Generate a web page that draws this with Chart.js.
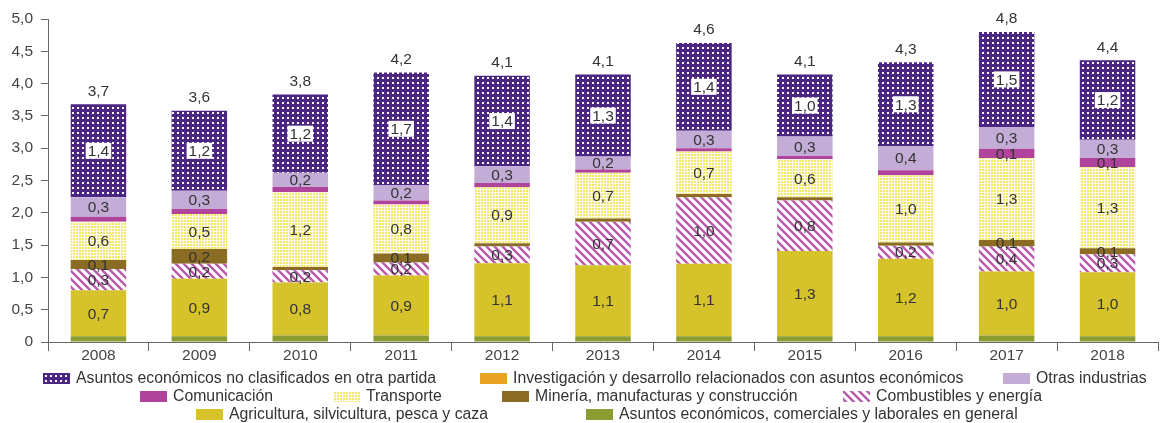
<!DOCTYPE html>
<html>
<head>
<meta charset="utf-8">
<script src="https://cdn.jsdelivr.net/npm/chart.js@4.4.0/dist/chart.umd.min.js"></script>
<style>
  body { margin: 0; background: #fff; }
  #wrap { position: relative; width: 1160px; height: 423px; }
  #legend { position: absolute; left: 0; top: 0; width: 1160px; height: 423px; pointer-events: none;
            font-family: 'Liberation Sans', Arial, sans-serif; font-size: 15.8px; color: #333; }
  .item { position: absolute; display: flex; align-items: center; white-space: nowrap; height: 20px; }
  .item canvas { margin-right: 6px; }
</style>
</head>
<body>
<div id="wrap">
  <canvas id="canvas" width="1160" height="423"></canvas>
  <div id="legend"></div>
</div>
<script>
// datos
var years = ['2008', '2009', '2010', '2011', '2012', '2013', '2014', '2015', '2016', '2017', '2018'];
var generales      = [0.09, 0.09, 0.10, 0.10, 0.09, 0.09, 0.09, 0.09, 0.09, 0.10, 0.09];
var agricultura    = [0.71, 0.89, 0.82, 0.93, 1.13, 1.10, 1.12, 1.32, 1.20, 0.99, 0.99];
var combustibles   = [0.33, 0.23, 0.19, 0.20, 0.26, 0.67, 1.03, 0.78, 0.20, 0.39, 0.28];
var mineria        = [0.14, 0.23, 0.05, 0.14, 0.05, 0.05, 0.05, 0.05, 0.05, 0.10, 0.09];
var transporte     = [0.59, 0.54, 1.16, 0.76, 0.87, 0.71, 0.66, 0.59, 1.04, 1.27, 1.26];
var comunicacion   = [0.08, 0.08, 0.08, 0.06, 0.06, 0.05, 0.05, 0.05, 0.08, 0.14, 0.14];
var otras          = [0.30, 0.28, 0.22, 0.24, 0.26, 0.20, 0.27, 0.30, 0.37, 0.34, 0.28];
var investigacion  = [0, 0, 0, 0, 0, 0, 0, 0, 0, 0, 0];
var noClasificados = [1.44, 1.24, 1.21, 1.74, 1.40, 1.27, 1.36, 0.96, 1.30, 1.47, 1.23];
var yTicks = [0, 0.5, 1, 1.5, 2, 2.5, 3, 3.5, 4, 4.5, 5];

var FONT = "'Liberation Sans', Arial, sans-serif";
var ctx = document.getElementById('canvas').getContext('2d');

function fmt(v) {
  return v === 0 ? '0' : v.toFixed(1).replace('.', ',');
}

// patrones de relleno
function makePattern(size, draw) {
  var c = document.createElement('canvas');
  c.width = size; c.height = size;
  var g = c.getContext('2d');
  draw(g, size);
  return ctx.createPattern(c, 'repeat');
}
var purpleGrid = makePattern(5, function (g) {
  g.fillStyle = '#4b2683'; g.fillRect(0, 0, 5, 5);
  g.fillStyle = '#ffffff'; g.fillRect(2, 2, 2, 2);
});
var yellowDots = makePattern(3, function (g) {
  g.fillStyle = '#fffdf0'; g.fillRect(0, 0, 3, 3);
  g.fillStyle = '#f1e56c'; g.fillRect(1, 1, 2, 2);
});
var pinkStripes = makePattern(8, function (g) {
  g.fillStyle = '#ffffff'; g.fillRect(0, 0, 8, 8);
  g.strokeStyle = '#b85aac'; g.lineWidth = 2.4;
  g.beginPath();
  g.moveTo(-2, -2); g.lineTo(10, 10);
  g.moveTo(-2, 6); g.lineTo(2, 10);
  g.moveTo(6, -2); g.lineTo(10, 2);
  g.stroke();
});

function ds(label, data, bg, showLabels) {
  return {
    label: label, data: data, backgroundColor: bg, borderWidth: 0,
    barPercentage: 0.55, categoryPercentage: 1, showLabels: showLabels
  };
}

var datasets = [
  ds('Asuntos económicos, comerciales y laborales en general', generales, '#8c9b32', false),
  ds('Agricultura, silvicultura, pesca y caza', agricultura, '#d6c22b', true),
  ds('Combustibles y energía', combustibles, pinkStripes, true),
  ds('Minería, manufacturas y construcción', mineria, '#8b6c24', true),
  ds('Transporte', transporte, yellowDots, true),
  ds('Comunicación', comunicacion, '#b0449c', true),
  ds('Otras industrias', otras, '#c3acd6', true),
  ds('Investigación y desarrollo relacionados con asuntos económicos', investigacion, '#e8a323', false),
  ds('Asuntos económicos no clasificados en otra partida', noClasificados, purpleGrid, true)
];

// etiquetas de segmento y totales
var labelsPlugin = {
  id: 'labels',
  afterDatasetsDraw: function (chart) {
    var c = chart.ctx;
    c.save();
    c.font = '15.5px ' + FONT;
    c.textAlign = 'center';
    c.textBaseline = 'middle';
    chart.data.datasets.forEach(function (d, di) {
      if (!d.showLabels) return;
      var meta = chart.getDatasetMeta(di);
      meta.data.forEach(function (bar, i) {
        var v = d.data[i];
        if (v < 0.09) return;
        var y = (bar.y + bar.base) / 2;
        var t = fmt(v);
        if (di === 8) {
          var w = c.measureText(t).width;
          c.fillStyle = '#ffffff';
          c.fillRect(bar.x - w / 2 - 2, y - 8, w + 4, 16);
        }
        c.fillStyle = '#333';
        c.fillText(t, bar.x, y + 1);
      });
    });
    var top = chart.getDatasetMeta(8);
    years.forEach(function (yr, i) {
      var sum = 0;
      chart.data.datasets.forEach(function (d) { sum += d.data[i]; });
      var bar = top.data[i];
      c.fillStyle = '#333';
      c.fillText(fmt(sum), bar.x, bar.y - 13);
    });
    c.restore();
  }
};

new Chart(ctx, {
  type: 'bar',
  data: { labels: years, datasets: datasets },
  options: {
    responsive: false,
    animation: false,
    layout: { padding: { top: 19, right: 2, left: 0, bottom: 0 } },
    plugins: { legend: { display: false }, tooltip: { enabled: false } },
    scales: {
      x: {
        stacked: true,
        grid: { offset: true, drawOnChartArea: false, tickLength: 9, color: '#666' },
        border: { color: '#666' },
        ticks: { color: '#444', font: { family: FONT, size: 15.5 }, padding: -5 },
        afterFit: function (s) { s.height = 423 - 342; }
      },
      y: {
        stacked: true, min: 0, max: 5,
        afterBuildTicks: function (s) { s.ticks = yTicks.map(function (v) { return { value: v }; }); },
        grid: { drawOnChartArea: false, tickLength: 7, color: '#666' },
        border: { color: '#666' },
        ticks: { color: '#444', font: { family: FONT, size: 15.5 }, padding: 8, callback: function (v) { return fmt(v); } },
        afterFit: function (s) { s.width = 48; }
      }
    }
  },
  plugins: [labelsPlugin]
});

// leyenda en tres filas como el original
var legendLayout = [
  { ds: 8, x: 43, y: 368 }, { ds: 7, x: 480, y: 368 }, { ds: 6, x: 1003, y: 368 },
  { ds: 5, x: 140, y: 386 }, { ds: 4, x: 333, y: 386 }, { ds: 3, x: 502, y: 386 }, { ds: 2, x: 843, y: 386 },
  { ds: 1, x: 196, y: 404 }, { ds: 0, x: 586, y: 404 }
];
var legend = document.getElementById('legend');
legendLayout.forEach(function (it) {
  var d = datasets[it.ds];
  var div = document.createElement('div');
  div.className = 'item';
  div.style.left = it.x + 'px';
  div.style.top = it.y + 'px';
  var sw = document.createElement('canvas');
  sw.width = 27; sw.height = 11;
  var g = sw.getContext('2d');
  g.fillStyle = d.backgroundColor;
  g.fillRect(0, 0, 27, 11);
  div.appendChild(sw);
  var span = document.createElement('span');
  span.textContent = d.label;
  div.appendChild(span);
  legend.appendChild(div);
});
</script>
</body>
</html>
